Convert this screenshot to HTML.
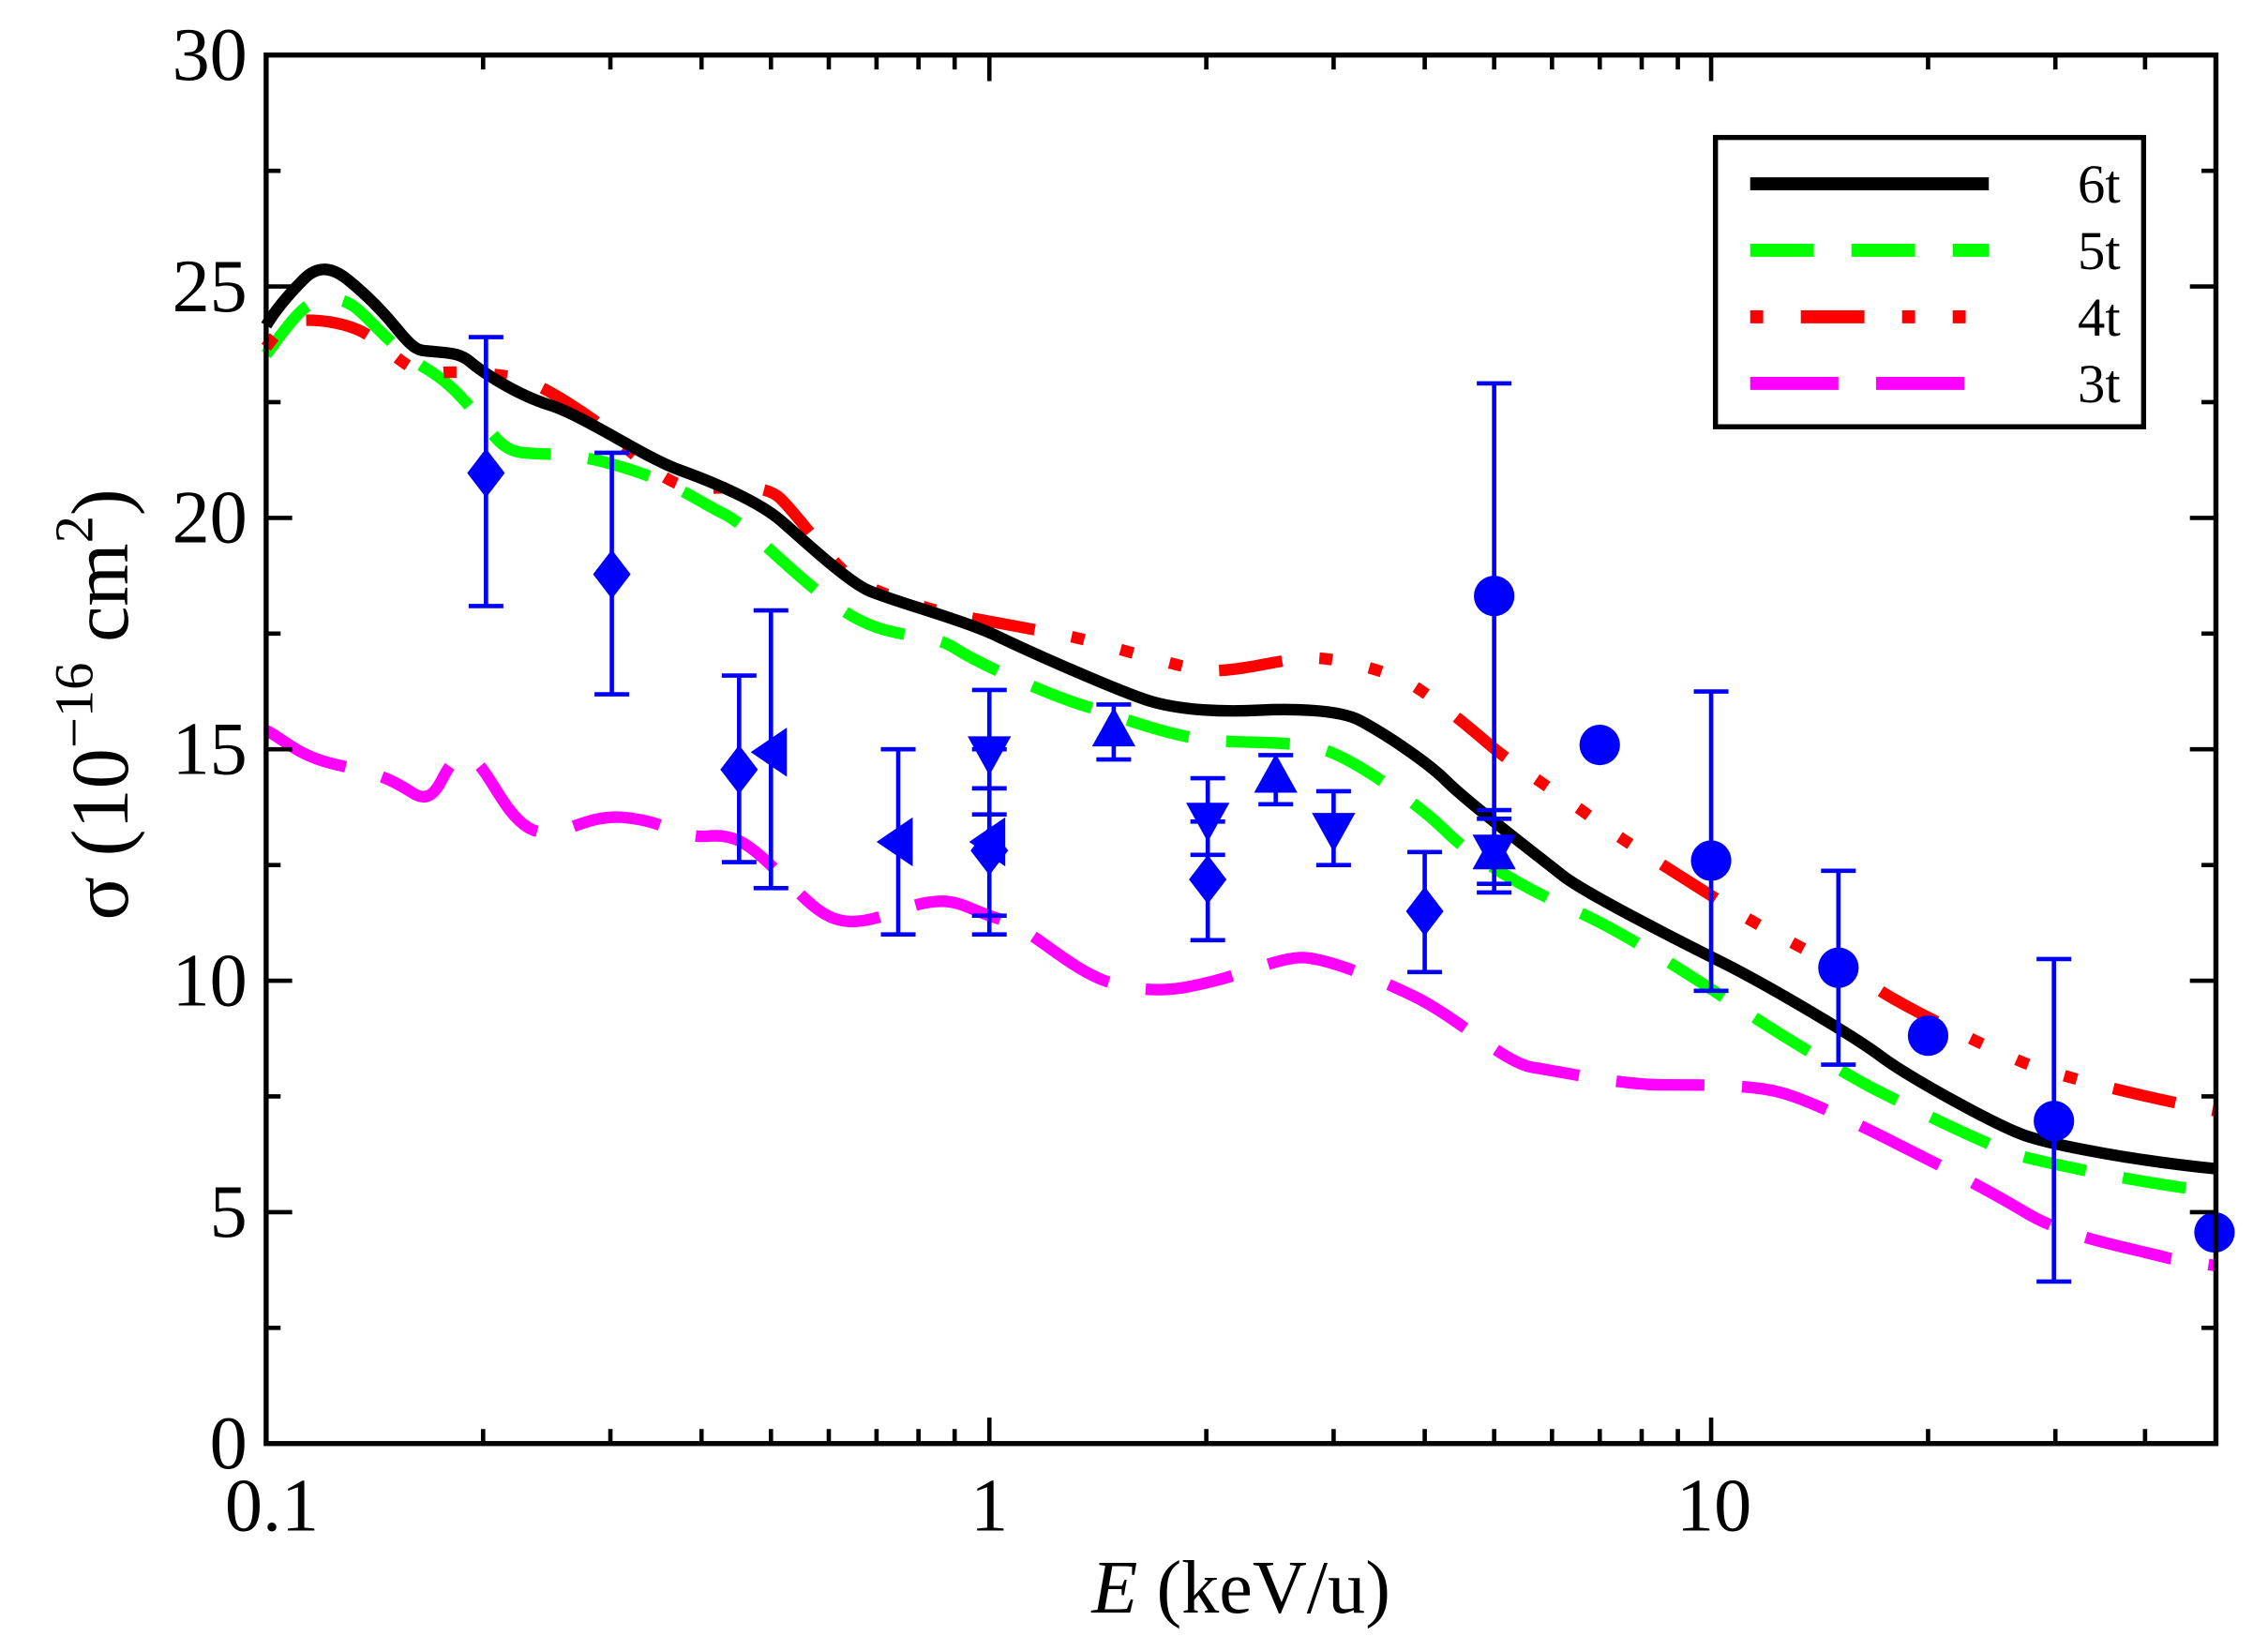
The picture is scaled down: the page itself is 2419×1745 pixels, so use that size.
<!DOCTYPE html>
<html><head><meta charset="utf-8"><style>html,body{margin:0;padding:0;background:#fff}svg{display:block}</style></head>
<body>
<svg width="2419" height="1745" viewBox="0 0 1568 1131" xmlns="http://www.w3.org/2000/svg" font-family="'Liberation Serif', serif">
<rect width="1568" height="1131" fill="#fff"/>
<g fill="none" stroke-linejoin="round">
<path stroke="#ff00ff" stroke-width="8" stroke-dasharray="61 26" d="M184,505 C195,510 205,522 230,528 S265,535 285,548 S305,525 320,523 S345,560 365,572 S400,563 430,565 S470,580 490,578 S520,585 545,610 S580,645 620,630 S665,628 690,635 S740,672 770,680 S820,683 840,678 S885,662 900,662 S950,675 980,690 S1040,735 1060,738 S1120,750 1150,750 S1210,750 1230,755 S1290,780 1310,790 S1370,820 1400,838 S1470,862 1500,870 L1532,875"/>
<path stroke="#00ff00" stroke-width="8" stroke-dasharray="44 26" d="M184,245 C192,235 205,215 215,210 S235,205 245,212 S270,240 295,255 S330,290 345,305 S375,308 420,320 S480,345 500,355 S545,395 580,420 S640,435 660,448 S730,482 750,488 S810,510 840,512 S900,512 920,520 S980,555 1000,575 S1060,617 1090,630 S1170,675 1200,695 S1280,745 1300,755 S1380,795 1400,800 S1480,818 1532,824"/>
<path stroke="#ff0000" stroke-width="8" stroke-dasharray="9 26 44 26 9 26 9 26" d="M184,240 C190,232 196,224 205,222 S240,222 255,232 S285,260 300,258 S345,258 360,262 S400,283 410,290 S450,328 470,335 S525,330 540,345 S575,390 590,400 S645,422 660,425 S720,436 740,440 S810,460 830,463 S880,457 900,455 S955,463 970,470 S1015,502 1030,515 S1080,550 1100,565 S1180,617 1200,630 S1280,672 1300,685 S1380,727 1400,735 S1480,758 1532,768"/>
<path stroke="#000" stroke-width="8" d="M184,225 C190,215 200,203 210,193 S230,185 240,193 S262,212 275,228 S290,242 300,243 S318,244 325,250 S355,272 380,280 S445,316 470,325 S525,347 540,360 S585,401 600,408 S665,428 690,440 S765,474 790,483 S850,492 870,491 S925,490 940,498 S985,525 1000,540 S1065,593 1080,605 S1160,650 1190,665 S1280,715 1300,730 S1380,778 1400,785 S1480,803 1532,808"/>
</g>
<g stroke="#0000ff" stroke-width="3" fill="none">
<path d="M336,233V419M324,233h24M324,419h24"/>
<path d="M423,313V480M411,313h24M411,480h24"/>
<path d="M511,467V596M499,467h24M499,596h24"/>
<path d="M533,422V614M521,422h24M521,614h24"/>
<path d="M621,518V646M609,518h24M609,646h24"/>
<path d="M684,477V646M672,477h24M672,518h24M672,545h24M672,563h24M672,633h24M672,646h24"/>
<path d="M770,487V525M758,487h24M758,525h24"/>
<path d="M835,538V650M823,538h24M823,568h24M823,591h24M823,650h24"/>
<path d="M882,522V556M870,522h24M870,556h24"/>
<path d="M922,547V598M910,547h24M910,598h24"/>
<path d="M985,589V672M973,589h24M973,672h24"/>
<path d="M1033,265V617M1021,265h24M1021,560h24M1021,566h24M1021,611h24M1021,617h24"/>
<path d="M1183,478V685M1171,478h24M1171,685h24"/>
<path d="M1271,602V736M1259,602h24M1259,736h24"/>
<path d="M1420,663V886M1408,663h24M1408,886h24"/>
</g>
<g fill="#0000ff">
<path d="M336,310l13,17l-13,17l-13,-17z"/>
<path d="M423,380l13,17l-13,17l-13,-17z"/>
<path d="M511,515l13,17l-13,17l-13,-17z"/>
<path d="M684,571l13,17l-13,17l-13,-17z"/>
<path d="M835,591l13,17l-13,17l-13,-17z"/>
<path d="M985,613l13,17l-13,17l-13,-17z"/>
<path d="M519,520l25,-17v34z"/>
<path d="M606,582l25,-17v34z"/>
<path d="M670,582l25,-17v34z"/>
<path d="M669,509h30l-15,27z"/>
<path d="M820,555h30l-15,27z"/>
<path d="M907,562h30l-15,27z"/>
<path d="M1018,577h30l-15,27z"/>
<path d="M755,516h30l-15,-27z"/>
<path d="M867,548h30l-15,-27z"/>
<path d="M1018,601h30l-15,-27z"/>
<circle cx="1033" cy="412" r="14"/>
<circle cx="1106" cy="515" r="14"/>
<circle cx="1183" cy="595" r="14"/>
<circle cx="1271" cy="669" r="14"/>
<circle cx="1333" cy="716" r="14"/>
<circle cx="1420" cy="775" r="14"/>
<circle cx="1531" cy="852" r="14"/>
</g>
<rect x="184" y="38" width="1348" height="960" fill="none" stroke="#000" stroke-width="3.5"/>
<g stroke="#000" stroke-width="3">
<path d="M184,838h18M184,678h18M184,518h18M184,358h18M184,198h18M1532,838h-18M1532,678h-18M1532,518h-18M1532,358h-18M1532,198h-18"/>
<path d="M184,918h10M184,758h10M184,598h10M184,438h10M184,278h10M184,118h10M1532,918h-10M1532,758h-10M1532,598h-10M1532,438h-10M1532,278h-10M1532,118h-10"/>
<path d="M684,998v-18M1183,998v-18M684,38v18M1183,38v18"/>
<path d="M334,998v-10M422,998v-10M485,998v-10M533,998v-10M573,998v-10M606,998v-10M635,998v-10M660,998v-10M834,998v-10M922,998v-10M985,998v-10M1033,998v-10M1073,998v-10M1106,998v-10M1135,998v-10M1160,998v-10M1333,998v-10M1421,998v-10M1483,998v-10"/>
<path d="M334,38v10M422,38v10M485,38v10M533,38v10M573,38v10M606,38v10M635,38v10M660,38v10M834,38v10M922,38v10M985,38v10M1033,38v10M1073,38v10M1106,38v10M1135,38v10M1160,38v10M1333,38v10M1421,38v10M1483,38v10"/>
</g>
<g font-size="52" fill="#000" text-anchor="end">
<text x="171" y="55">30</text><text x="171" y="215">25</text><text x="171" y="375">20</text><text x="171" y="535">15</text><text x="171" y="695">10</text><text x="171" y="855">5</text><text x="171" y="1015">0</text>
</g>
<g font-size="52" fill="#000" text-anchor="middle">
<text x="188" y="1058">0.1</text><text x="684" y="1058">1</text><text x="1185" y="1058">10</text>
<text x="858" y="1115"><tspan font-style="italic">E</tspan> (keV/u)</text>
</g>
<text transform="translate(88,487) rotate(-90)" font-size="56" text-anchor="middle">σ (10<tspan font-size="38" dy="-24">−16</tspan><tspan dy="24"> cm</tspan><tspan font-size="38" dy="-24">2</tspan><tspan dy="24">)</tspan></text>
<rect x="1186" y="95" width="296" height="200" fill="#fff" stroke="#000" stroke-width="3.5"/>
<g stroke-width="9">
<path d="M1210,127h165" stroke="#000"/>
<path d="M1210,173h165" stroke="#00ff00" stroke-dasharray="44 26"/>
<path d="M1210,219h150" stroke="#ff0000" stroke-dasharray="9 26 44 26 9 26 9 26"/>
<path d="M1210,265h150" stroke="#ff00ff" stroke-dasharray="61 26"/>
</g>
<g font-size="38" text-anchor="end">
<text x="1466" y="140">6t</text><text x="1466" y="186">5t</text><text x="1466" y="232">4t</text><text x="1466" y="278">3t</text>
</g>
</svg>
</body></html>
